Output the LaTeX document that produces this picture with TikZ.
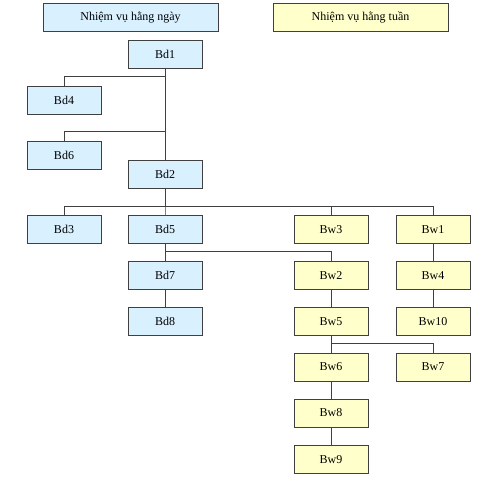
\documentclass[tikz,border=0pt]{standalone}
\usepackage{fontspec}
\setmainfont{Liberation Serif}
\definecolor{dayfill}{HTML}{D9F0FF}
\definecolor{weekfill}{HTML}{FFFFCC}
\definecolor{edgecol}{HTML}{404040}
\begin{document}
\begin{tikzpicture}[x=0.75pt,y=-0.75pt,
  box/.style={draw=edgecol,line width=0.75pt,minimum width=55.5pt,minimum height=21pt,inner sep=0pt,font=\fontsize{9}{10}\selectfont},
  day/.style={box,fill=dayfill},
  week/.style={box,fill=weekfill},
  head/.style={box,minimum width=131.25pt},
  link/.style={draw=edgecol,line width=0.75pt}]
\useasboundingbox (0,0) rectangle (499,480);
\node[head,fill=dayfill] (hday) at (130.5,17) {Nhiệm vụ hằng ngày};
\node[head,fill=weekfill] (hweek) at (360.5,17) {Nhiệm vụ hằng tuần};
\node[day] (bd1) at (165,54) {Bd1};
\node[day] (bd4) at (64,100) {Bd4};
\node[day] (bd6) at (64,155) {Bd6};
\node[day] (bd2) at (165,174) {Bd2};
\node[day] (bd3) at (64,229.5) {Bd3};
\node[day] (bd5) at (165,229.5) {Bd5};
\node[week] (bw3) at (331,229.5) {Bw3};
\node[week] (bw1) at (433,229.5) {Bw1};
\node[day] (bd7) at (165,275.5) {Bd7};
\node[day] (bd8) at (165,321.5) {Bd8};
\node[week] (bw2) at (331,275.5) {Bw2};
\node[week] (bw4) at (433,275.5) {Bw4};
\node[week] (bw5) at (331,321.5) {Bw5};
\node[week] (bw10) at (433,321.5) {Bw10};
\node[week] (bw6) at (331,367) {Bw6};
\node[week] (bw7) at (433,367) {Bw7};
\node[week] (bw8) at (331,413) {Bw8};
\node[week] (bw9) at (331,459.5) {Bw9};
\draw[link] (bd1.south) -- (bd2.north);
\draw[link] (bd4.north) -- ++(0,-9) -| (bd1.south);
\draw[link] (bd6.north) -- ++(0,-9) -| (bd1.south);
\foreach \c in {bd3,bd5,bw3,bw1}
  \draw[link] (\c.north) -- ++(0,-9) -| (bd2.south);
\draw[link] (bd5.south) -- (bd7.north);
\draw[link] (bd7.south) -- (bd8.north);
\draw[link] (bw2.north) -- ++(0,-10) -| (bd5.south);
\draw[link] (bw2.south) -- (bw5.north);
\draw[link] (bw1.south) -- (bw4.north);
\draw[link] (bw4.south) -- (bw10.north);
\draw[link] (bw5.south) -- (bw6.north);
\draw[link] (bw7.north) -- ++(0,-9) -| (bw5.south);
\draw[link] (bw6.south) -- (bw8.north);
\draw[link] (bw8.south) -- (bw9.north);
\end{tikzpicture}
\end{document}
